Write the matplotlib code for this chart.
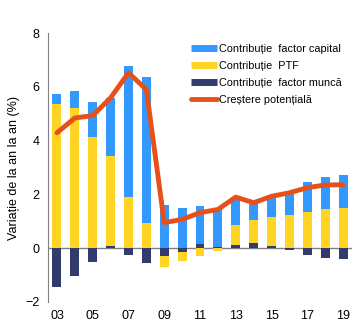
import numpy as np
import matplotlib.pyplot as plt
from matplotlib.lines import Line2D

plt.rcParams['font.family'] = ['Liberation Sans', 'DejaVu Sans']

years = ['03', '04', '05', '06', '07', '08', '09', '10', '11', '12',
         '13', '14', '15', '16', '17', '18', '19']
munca = [-1.46, -1.04, -0.51, 0.08, -0.26, -0.55, -0.29, -0.14, 0.17, 0.05,
         0.12, 0.2, 0.08, -0.06, -0.26, -0.37, -0.41]
ptf = [5.37, 5.22, 4.14, 3.35, 1.91, 0.94, -0.41, -0.34, -0.29, -0.1,
       0.75, 0.84, 1.09, 1.24, 1.34, 1.47, 1.49]
capital = [0.38, 0.61, 1.31, 2.17, 4.88, 5.44, 1.6, 1.49, 1.4, 1.45,
           1.01, 0.68, 0.77, 0.86, 1.12, 1.19, 1.23]
potential = [4.29, 4.84, 4.93, 5.59, 6.52, 5.9, 0.95, 1.07, 1.32, 1.44,
             1.9, 1.69, 1.93, 2.06, 2.25, 2.35, 2.36]

c_cap = '#3399ff'
c_ptf = '#ffd423'
c_mun = '#333a6e'
c_pot = '#e8501a'

fig = plt.figure(figsize=(3.57, 3.24), dpi=100)
ax = fig.add_axes([48 / 357, 1 - 302 / 324, 304 / 357, 269 / 324])

x = np.arange(len(years))
pos = np.zeros(len(x))
neg = np.zeros(len(x))
# stack from zero outwards: munca, PTF, capital
for vals, col in [(munca, c_mun), (ptf, c_ptf), (capital, c_cap)]:
    v = np.array(vals)
    base = np.where(v >= 0, pos, neg)
    ax.bar(x, v, 0.5, bottom=base, color=col, zorder=2)
    pos = pos + np.clip(v, 0, None)
    neg = neg + np.clip(v, None, 0)

ax.plot(x, potential, color=c_pot, lw=3.5, solid_capstyle='round', zorder=3)
ax.axhline(0, color='#808080', lw=1, zorder=1)

ax.set_xlim(-0.5, 16.5)
ax.set_ylim(-2, 8)
ax.set_yticks([-2, 0, 2, 4, 6, 8])
ax.set_xticks(x[::2])
ax.set_xticklabels(years[::2])
ax.tick_params(length=0, labelsize=9, pad=6)
for s in ['top', 'right', 'bottom']:
    ax.spines[s].set_visible(False)
ax.spines['left'].set_color('#808080')
ax.set_ylabel('Variație de la an la an (%)', fontsize=9, labelpad=4)

handles = [Line2D([], [], color=c_cap, lw=5, solid_capstyle='butt'),
           Line2D([], [], color=c_ptf, lw=5, solid_capstyle='butt'),
           Line2D([], [], color=c_mun, lw=5, solid_capstyle='butt'),
           Line2D([], [], color=c_pot, lw=3.5, solid_capstyle='round')]
labels = ['Contribuție  factor capital', 'Contribuție  PTF',
          'Contribuție  factor muncă', 'Creștere potențială']
ax.legend(handles, labels, loc='upper left', bbox_to_anchor=(0.457, 0.975),
          frameon=False, fontsize=7.8, handlelength=2.4, handletextpad=0.2,
          labelspacing=0.65, borderaxespad=0)

fig.savefig('out.png', dpi=100)
